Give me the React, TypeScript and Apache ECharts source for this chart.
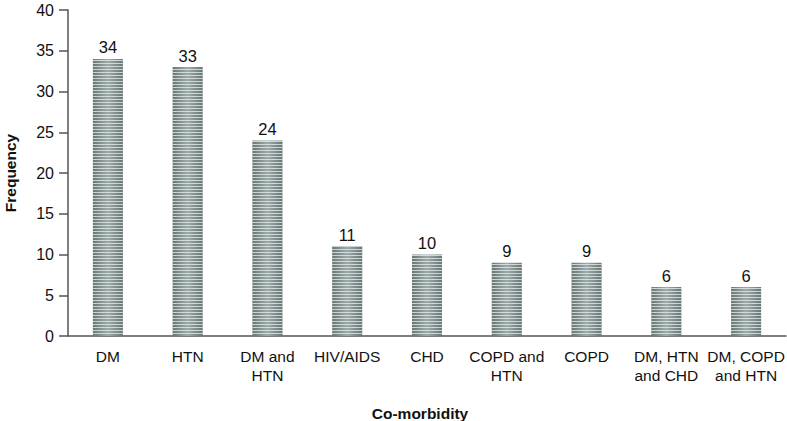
import React, { useEffect, useRef } from "react";
import * as echarts from "echarts";

const categories = [
  "DM",
  "HTN",
  "DM and\nHTN",
  "HIV/AIDS",
  "CHD",
  "COPD and\nHTN",
  "COPD",
  "DM, HTN\nand CHD",
  "DM, COPD\nand HTN",
];
const frequency = [34, 33, 24, 11, 10, 9, 9, 6, 6];
const yTicks = { min: 0, max: 40, interval: 5 };

export default function App() {
  const ref = useRef<HTMLDivElement>(null);
  useEffect(() => {
    if (!ref.current) return;
    const chart = echarts.init(ref.current, undefined, { renderer: "svg" });
    const font = "'Liberation Sans', Arial, Helvetica, sans-serif";
    chart.setOption({
      animation: false,
      textStyle: { fontFamily: font },
      grid: {
        left: 68,
        right: 1,
        top: 10,
        bottom: 85,
        containLabel: false,
        outerBoundsMode: "none",
      },
      xAxis: {
        type: "category",
        data: categories,
        name: "Co-morbidity",
        nameLocation: "middle",
        nameGap: 69,
        nameTextStyle: {
          fontFamily: font,
          fontWeight: "bold",
          fontSize: 15.5,
          color: "#111",
          padding: [0, 14, 0, 0],
        },
        axisLine: { lineStyle: { color: "#555", width: 1.5 } },
        axisTick: { alignWithLabel: true, length: 8, lineStyle: { color: "#555", width: 1.5 } },
        axisLabel: { fontFamily: font, fontSize: 15.5, color: "#111", margin: 11, lineHeight: 19, interval: 0 },
      },
      yAxis: {
        type: "value",
        min: yTicks.min,
        max: yTicks.max,
        interval: yTicks.interval,
        name: "Frequency",
        nameLocation: "middle",
        nameGap: 50,
        nameTextStyle: { fontFamily: font, fontWeight: "bold", fontSize: 15.5, color: "#111" },
        axisLine: { show: true, lineStyle: { color: "#555", width: 1.5 } },
        axisTick: { show: true, length: 9, lineStyle: { color: "#555", width: 1.5 } },
        axisLabel: { fontFamily: font, fontSize: 16, color: "#111", margin: 14 },
        splitLine: { show: false },
      },
      series: [
        {
          type: "bar",
          data: frequency,
          barWidth: 30,
          itemStyle: {
            color: new echarts.graphic.LinearGradient(0, 0, 1, 0, [
              { offset: 0, color: "#687575" },
              { offset: 0.5, color: "#9eabab" },
              { offset: 1, color: "#687575" },
            ]),
            decal: {
              symbol: "rect",
              symbolSize: 1,
              dashArrayX: [1, 0],
              dashArrayY: [1, 2],
              color: "rgba(225,232,232,0.8)",
              rotation: 0,
            },
          },
          label: {
            show: true,
            position: "top",
            distance: 3,
            fontFamily: font,
            fontSize: 16.5,
            color: "#111",
          },
        },
      ],
    });
    return () => chart.dispose();
  }, []);
  return (
    <div
      ref={ref}
      style={{ position: "absolute", left: 0, top: 0, width: 787, height: 421 }}
    />
  );
}
